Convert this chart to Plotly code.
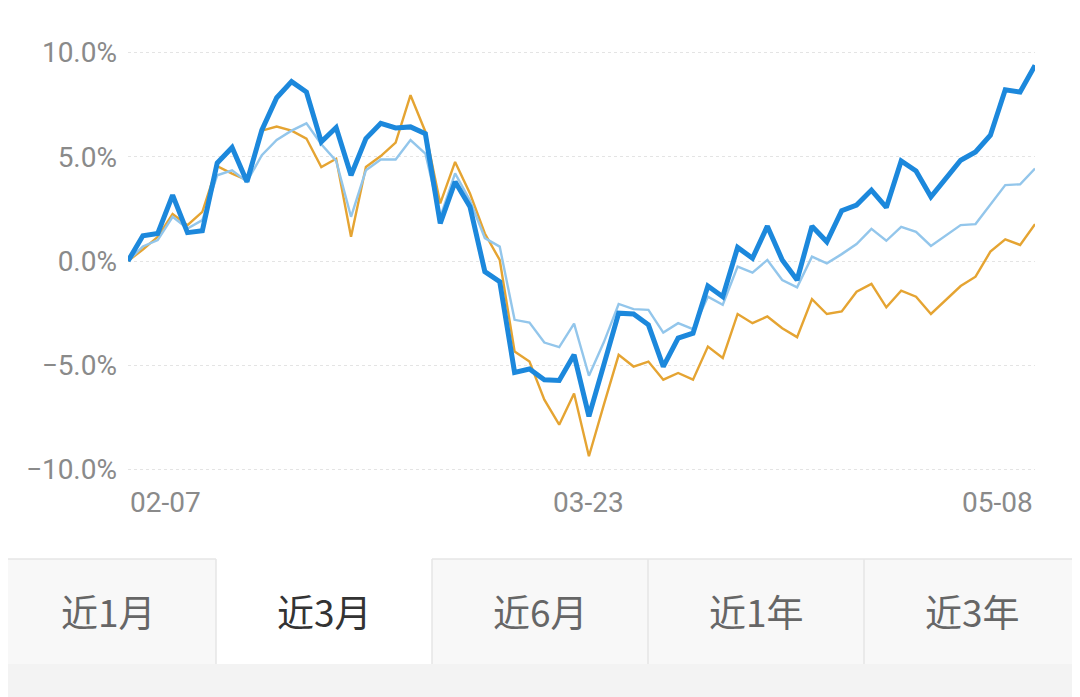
import plotly.graph_objects as go

# the page body has an 8px margin, so the figure is drawn 8px in from the top-left
OFF = 8
W, H = 1080 - OFF, 697 - OFF
ML, MR, MT, MB = 128 - OFF, 45, 42 - OFF, 217

DATES = [
    "02-07", "02-10", "02-11", "02-12", "02-13", "02-14",
    "02-17", "02-18", "02-19", "02-20", "02-21",
    "02-24", "02-25", "02-26", "02-27", "02-28",
    "03-02", "03-03", "03-04", "03-05", "03-06",
    "03-09", "03-10", "03-11", "03-12", "03-13",
    "03-16", "03-17", "03-18", "03-19", "03-20",
    "03-23", "03-24", "03-25", "03-26", "03-27",
    "03-30", "03-31", "04-01", "04-02", "04-03",
    "04-07", "04-08", "04-09", "04-10",
    "04-13", "04-14", "04-15", "04-16", "04-17",
    "04-20", "04-21", "04-22", "04-23", "04-24",
    "04-27", "04-28", "04-29", "04-30",
    "05-06", "05-07", "05-08",
]

# fund (thick blue), index (light blue), benchmark (orange), in %
FUND = [
    0.00, 1.21, 1.32, 3.16, 1.36, 1.45, 4.70, 5.44, 3.80, 6.27,
    7.83, 8.60, 8.10, 5.71, 6.40, 4.11, 5.87, 6.60, 6.38, 6.43,
    6.10, 1.80, 3.80, 2.60, -0.51, -0.99, -5.34, -5.18, -5.69, -5.73,
    -4.50, -7.45, -4.98, -2.50, -2.54, -3.06, -5.06, -3.70, -3.46, -1.20,
    -1.71, 0.65, 0.13, 1.67, 0.05, -0.91, 1.67, 0.92, 2.41, 2.68,
    3.40, 2.57, 4.80, 4.32, 3.08, 3.96, 4.83, 5.23, 6.03, 8.21,
    8.10, 9.38,
]
INDEX = [
    0.00, 0.70, 1.00, 2.12, 1.56, 1.96, 4.11, 4.35, 3.80, 5.07,
    5.80, 6.25, 6.60, 5.60, 4.80, 2.12, 4.35, 4.87, 4.87, 5.80,
    5.15, 2.10, 4.20, 2.90, 1.10, 0.69, -2.82, -2.95, -3.91, -4.13,
    -3.00, -5.50, -3.90, -2.06, -2.31, -2.34, -3.43, -2.98, -3.27, -1.71,
    -2.10, -0.27, -0.56, 0.05, -0.91, -1.26, 0.21, -0.11, 0.33, 0.81,
    1.54, 0.97, 1.64, 1.40, 0.72, 1.20, 1.72, 1.77, 2.68, 3.64,
    3.68, 4.43,
]
BENCH = [
    0.00, 0.55, 1.16, 2.25, 1.72, 2.36, 4.55, 4.19, 3.88, 6.25,
    6.45, 6.25, 5.87, 4.50, 4.90, 1.16, 4.51, 5.03, 5.68, 7.95,
    6.20, 2.76, 4.75, 3.24, 1.32, 0.05, -4.34, -4.82, -6.65, -7.85,
    -6.35, -9.36, -6.90, -4.50, -5.06, -4.82, -5.69, -5.37, -5.69, -4.10,
    -4.65, -2.54, -2.98, -2.66, -3.22, -3.65, -1.83, -2.54, -2.42, -1.47,
    -1.10, -2.22, -1.42, -1.71, -2.54, -1.87, -1.20, -0.75, 0.45, 1.04,
    0.77, 1.77,
]

Y_TICKS = [-10, -5, 0, 5, 10]
Y_TICK_TEXT = ["−10.0%", "−5.0%", "0.0%", "5.0%", "10.0%"]
X_LABELS = ["02-07", "03-23", "05-08"]
TABS = ["近1月", "近3月", "近6月", "近1年", "近3年"]
ACTIVE_TAB = 1

BLUE = "#1c88dc"
LIGHT_BLUE = "#93c6eb"
ORANGE = "#e5a432"
GRAY_TEXT = "#8a8a8a"
BORDER = "#e6e6e6"


def px(x):
    # screen pixel -> paper x
    return (x - OFF - ML) / (W - ML - MR)


def py(y):
    # screen pixel -> paper y
    return (H - MB - (y - OFF)) / (H - MT - MB)


fig = go.Figure()
fig.add_trace(go.Scatter(x=DATES, y=BENCH, mode="lines",
                         line=dict(color=ORANGE, width=2.4), hoverinfo="skip"))
fig.add_trace(go.Scatter(x=DATES, y=INDEX, mode="lines",
                         line=dict(color=LIGHT_BLUE, width=2.4), hoverinfo="skip"))
fig.add_trace(go.Scatter(x=DATES, y=FUND, mode="lines",
                         line=dict(color=BLUE, width=5), hoverinfo="skip"))

shapes = []
# bottom strip
shapes.append(dict(type="rect", xref="paper", yref="paper",
                   x0=px(0), x1=px(1080), y0=py(664), y1=py(697),
                   fillcolor="#f3f3f3", line=dict(width=0)))
tab_w = 1080 / len(TABS)
annotations = []
for i, name in enumerate(TABS):
    x0, x1 = i * tab_w, (i + 1) * tab_w
    active = i == ACTIVE_TAB
    shapes.append(dict(type="rect", xref="paper", yref="paper",
                       x0=px(max(x0, OFF)), x1=px(x1), y0=py(559), y1=py(664),
                       fillcolor="white" if active else "#f8f8f8",
                       line=dict(width=0)))
    if not active:
        shapes.append(dict(type="line", xref="paper", yref="paper",
                           x0=px(max(x0, OFF)), x1=px(x1), y0=py(559), y1=py(559),
                           line=dict(color=BORDER, width=1.5)))
    if i > 0:
        shapes.append(dict(type="line", xref="paper", yref="paper",
                           x0=px(x0), x1=px(x0), y0=py(559), y1=py(664),
                           line=dict(color=BORDER, width=1.5)))
    annotations.append(dict(
        text=name, xref="paper", yref="paper",
        x=px((x0 + x1) / 2), y=py(611), showarrow=False,
        xanchor="center", yanchor="middle",
        font=dict(size=37, color="#333333" if active else "#666666",
                  family="Noto Sans CJK SC"),
    ))

# x labels: first left-aligned, middle centred, last right-aligned
for lab, anchor in zip(X_LABELS, ["left", "center", "right"]):
    annotations.append(dict(
        text=lab, xref="x", yref="paper", x=lab, y=py(502),
        showarrow=False, xanchor=anchor, yanchor="middle",
        font=dict(size=28, color=GRAY_TEXT, family="Roboto"),
    ))

fig.update_xaxes(
    type="category", range=[0, len(DATES) - 1],
    showgrid=False, showline=False, zeroline=False,
    showticklabels=False, ticks="",
)
fig.update_yaxes(
    range=[-10.5, 10.5], tickvals=Y_TICKS, ticktext=Y_TICK_TEXT,
    showgrid=True, gridcolor="#e4e4e4", griddash="dot", gridwidth=1,
    zeroline=False, showline=False, ticks="", ticklabelstandoff=10,
    tickfont=dict(size=28, color=GRAY_TEXT, family="Roboto"),
)
fig.update_layout(
    width=W, height=H,
    margin=dict(l=ML, r=MR, t=MT, b=MB),
    showlegend=False,
    plot_bgcolor="white", paper_bgcolor="white",
    shapes=shapes, annotations=annotations,
)

fig.write_html("out.html", config={"displayModeBar": False})
